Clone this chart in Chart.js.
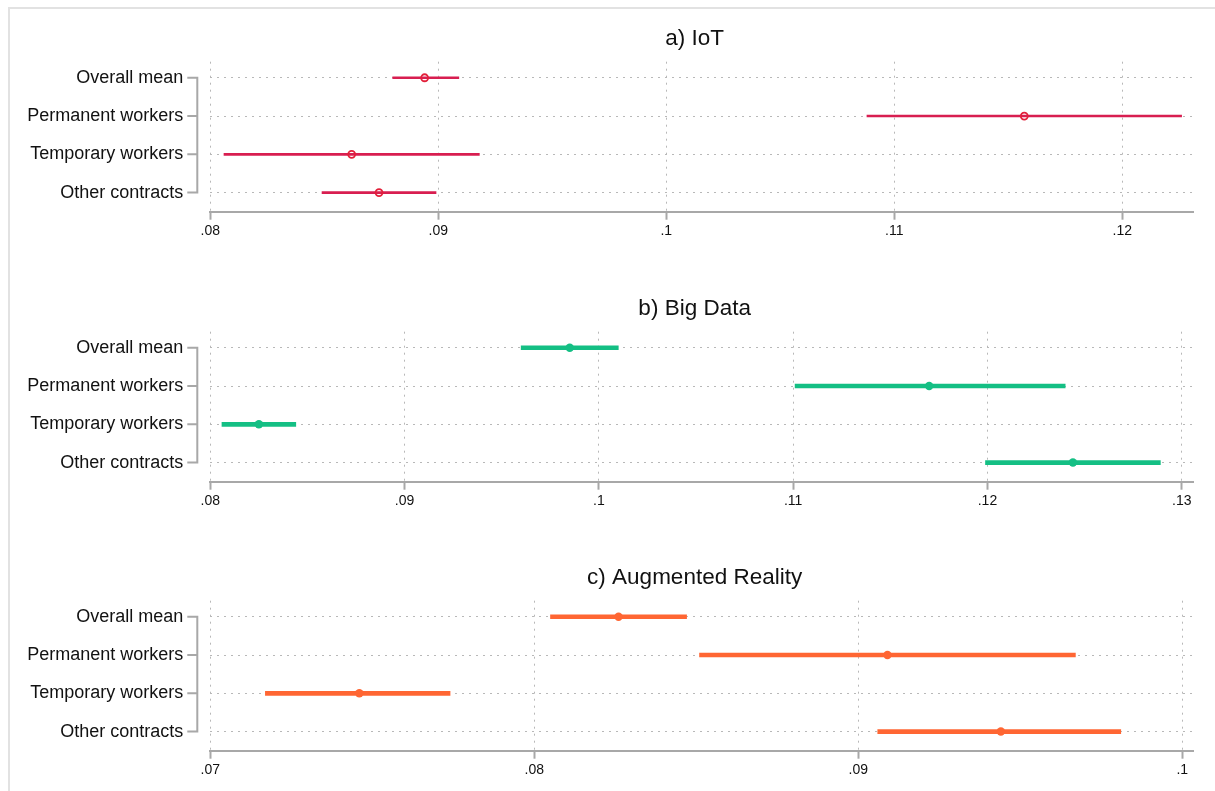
<!DOCTYPE html>
<html>
<head>
<meta charset="utf-8">
<script src="https://cdn.jsdelivr.net/npm/chart.js@4.4.1/dist/chart.umd.min.js"></script>
<style>
  body { margin: 0; background: #fff; width: 1215px; height: 791px; overflow: hidden; position: relative; }
  .frame { position: absolute; left: 8px; top: 7px; right: -10px; bottom: -10px; border-left: 2px solid #e2e2e2; border-top: 2px solid #e2e2e2; }
  canvas { position: absolute; left: 0; }
</style>
</head>
<body>
<div class="frame"></div>
<canvas id="iot" width="1215" height="270" style="top:0px"></canvas>
<canvas id="bigdata" width="1215" height="270" style="top:270px"></canvas>
<canvas id="ar" width="1215" height="252" style="top:539px"></canvas>
<script>
// groups, top to bottom
const categories = ['Overall mean', 'Permanent workers', 'Temporary workers', 'Other contracts'];

// a) IoT
const iotMean = [0.0894, 0.1157, 0.0862, 0.0874];
const iotLow  = [0.0880, 0.1088, 0.0806, 0.0849];
const iotHigh = [0.0909, 0.1226, 0.0918, 0.0899];
const iotTicks = [0.08, 0.09, 0.10, 0.11, 0.12];
const iotTickLabels = ['.08', '.09', '.1', '.11', '.12'];

// b) Big Data
const bigMean = [0.0985, 0.1170, 0.0825, 0.1244];
const bigLow  = [0.0960, 0.1101, 0.0806, 0.1199];
const bigHigh = [0.1010, 0.1240, 0.0844, 0.1289];
const bigTicks = [0.08, 0.09, 0.10, 0.11, 0.12, 0.13];
const bigTickLabels = ['.08', '.09', '.1', '.11', '.12', '.13'];

// c) Augmented Reality
const arMean = [0.0826, 0.0909, 0.0746, 0.0944];
const arLow  = [0.0805, 0.0851, 0.0717, 0.0906];
const arHigh = [0.0847, 0.0967, 0.0774, 0.0981];
const arTicks = [0.07, 0.08, 0.09, 0.10];
const arTickLabels = ['.07', '.08', '.09', '.1'];

const FONT = '"Liberation Sans", Arial, sans-serif';
const GRID = '#b8b8b8';
const AXIS = '#a8a8a8';

// stata style y axis: a bracket left of the plot region
const bracket = {
  id: 'bracket',
  afterLayout(chart) {
    // centre the title over the plot region rather than the whole canvas
    const t = chart.titleBlock;
    if (t) { t.left = chart.chartArea.left - 14; t.right = chart.chartArea.right; }
  },
  afterDraw(chart) {
    const ys = chart.scales.y, ctx = chart.ctx;
    const x0 = chart.chartArea.left - 13;
    const top = ys.getPixelForValue(1), bot = ys.getPixelForValue(categories.length);
    ctx.save();
    ctx.strokeStyle = AXIS;
    ctx.lineWidth = 2;
    ctx.beginPath();
    ctx.moveTo(x0, top - 1);
    ctx.lineTo(x0, bot + 1);
    categories.forEach((c, i) => {
      const py = ys.getPixelForValue(i + 1);
      ctx.moveTo(x0 - 10, py);
      ctx.lineTo(x0 + 1, py);
    });
    ctx.stroke();
    ctx.restore();
  }
};

function makePanel(id, title, mean, low, high, ticks, tickLabels, xmin, xmax, color, hollow, barW, bottomPad) {
  new Chart(document.getElementById(id), {
    type: 'bar',
    data: {
      datasets: [{
        type: 'scatter',
        order: 0,
        data: mean.map((m, i) => ({ x: m, y: i + 1 })),
        pointStyle: 'circle',
        pointRadius: hollow ? 3.5 : 4.2,
        pointBorderWidth: hollow ? 1.8 : 0,
        pointBorderColor: hollow ? '#e2203a' : color,
        pointBackgroundColor: hollow ? 'rgba(0,0,0,0)' : color
      }, {
        type: 'bar',
        order: 1,
        indexAxis: 'y',
        data: low.map((l, i) => ({ y: i + 1, x: [l, high[i]] })),
        backgroundColor: color,
        borderWidth: 0,
        barThickness: barW
      }]
    },
    options: {
      responsive: false,
      animation: false,
      layout: { padding: { left: 0, right: 22, top: 0, bottom: bottomPad } },
      plugins: {
        legend: { display: false },
        tooltip: { enabled: false },
        title: {
          display: true,
          text: title,
          color: '#111',
          font: { family: FONT, size: 22.5, weight: 'normal' },
          padding: { top: 25, bottom: 9.7 }
        }
      },
      scales: {
        x: {
          type: 'linear',
          offset: false,
          min: xmin,
          max: xmax,
          afterBuildTicks: s => { s.ticks = ticks.map(v => ({ value: v })); },
          afterFit: s => { s.height = 40; },
          ticks: {
            color: '#111',
            font: { family: FONT, size: 14 },
            padding: 3,
            maxRotation: 0,
            autoSkip: false,
            callback: (v, i) => tickLabels[i]
          },
          grid: { offset: false, color: GRID, lineWidth: 1, drawTicks: true, tickLength: 8, tickColor: AXIS, tickWidth: 2 },
          border: { display: true, color: AXIS, width: 2, dash: [2, 5] }
        },
        y: {
          type: 'linear',
          offset: false,
          reverse: true,
          min: 0.58,
          max: 4.5,
          afterBuildTicks: s => { s.ticks = categories.map((c, i) => ({ value: i + 1 })); },
          afterFit: s => { s.width = 210.3; },
          ticks: {
            color: '#111',
            font: { family: FONT, size: 18 },
            padding: 27,
            autoSkip: false,
            callback: (v) => categories[Math.round(v) - 1]
          },
          grid: { offset: false, color: GRID, lineWidth: 1, drawTicks: false },
          border: { display: false, dash: [2, 5] }
        }
      }
    },
    plugins: [bracket]
  });
}

makePanel('iot', 'a) IoT', iotMean, iotLow, iotHigh, iotTicks, iotTickLabels, 0.08, 0.1231, '#d81e50', true, 2, 18.3);
makePanel('bigdata', 'b) Big Data', bigMean, bigLow, bigHigh, bigTicks, bigTickLabels, 0.08, 0.13058, '#14bf84', false, 4, 18.3);
makePanel('ar', 'c) Augmented Reality', arMean, arLow, arHigh, arTicks, arTickLabels, 0.07, 0.10033, '#ff6633', false, 4, 0.3);
</script>
</body>
</html>
